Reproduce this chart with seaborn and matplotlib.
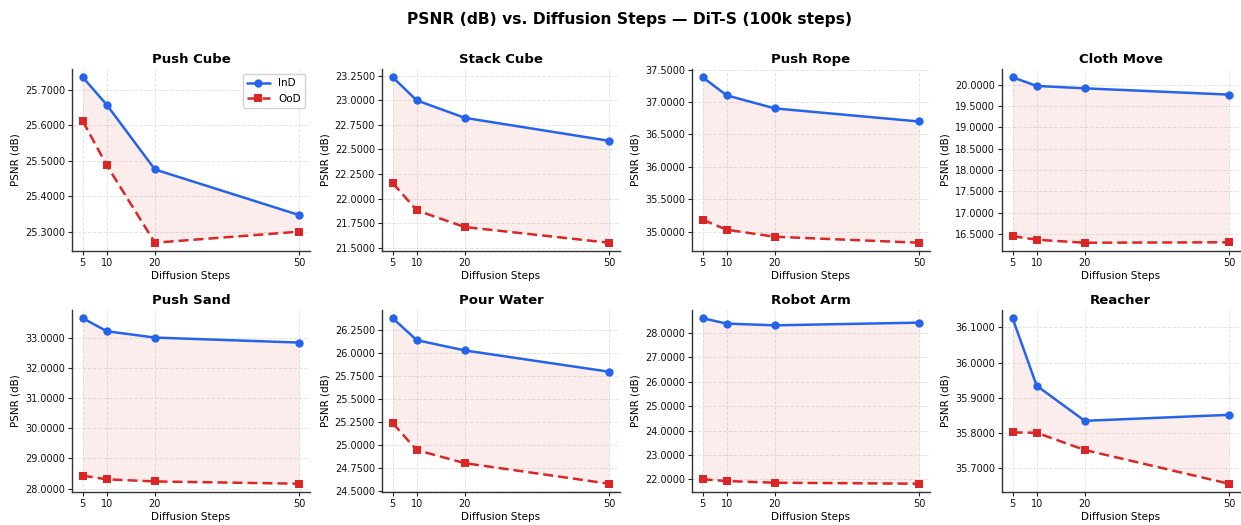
import numpy as np
import pandas as pd
import matplotlib
matplotlib.use("Agg")
import matplotlib.pyplot as plt
import seaborn as sns
from matplotlib.ticker import FormatStrFormatter

steps = [5, 10, 20, 50]
tasks = ["Push Cube", "Stack Cube", "Push Rope", "Cloth Move",
         "Push Sand", "Pour Water", "Robot Arm", "Reacher"]

ind_push_cube = [25.7346, 25.657, 25.4757, 25.3477]
ood_push_cube = [25.611, 25.487, 25.270, 25.301]
ind_stack_cube = [23.233, 22.998, 22.821, 22.588]
ood_stack_cube = [22.159, 21.882, 21.713, 21.554]
ind_push_rope = [37.382, 37.103, 36.902, 36.700]
ood_push_rope = [35.185, 35.031, 34.923, 34.831]
ind_cloth_move = [20.18, 19.976, 19.92, 19.772]
ood_cloth_move = [16.445, 16.36, 16.29, 16.30]
ind_push_sand = [33.64, 33.21, 33.0, 32.835]
ood_push_sand = [28.43, 28.31, 28.24, 28.165]
ind_pour_water = [26.38, 26.141, 26.029, 25.797]
ood_pour_water = [25.235, 24.942, 24.80, 24.576]
ind_robot_arm = [28.60, 28.38, 28.31, 28.42]
ood_robot_arm = [22.0, 21.93, 21.86, 21.82]
ind_reacher = [36.126, 35.934, 35.834, 35.851]
ood_reacher = [35.801, 35.80, 35.751, 35.655]

ind_vals = [ind_push_cube, ind_stack_cube, ind_push_rope, ind_cloth_move,
            ind_push_sand, ind_pour_water, ind_robot_arm, ind_reacher]
ood_vals = [ood_push_cube, ood_stack_cube, ood_push_rope, ood_cloth_move,
            ood_push_sand, ood_pour_water, ood_robot_arm, ood_reacher]

sns.set_theme(style="ticks")
plt.rcParams['font.family'] = ['DejaVu Sans']
plt.rcParams['text.color'] = 'black'
plt.rcParams['axes.labelcolor'] = 'black'

BLUE = "#2563eb"
RED = "#dc2626"

fig, axes = plt.subplots(2, 4, figsize=(12.41, 5.25), dpi=100)
fig.subplots_adjust(left=0.058, right=0.999, top=0.8686, bottom=0.0629,
                    wspace=0.3025, hspace=0.324)

for i, (ax, task) in enumerate(zip(axes.flat, tasks)):
    df = pd.DataFrame({
        "steps": steps * 2,
        "psnr": ind_vals[i] + ood_vals[i],
        "split": ["InD"] * 4 + ["OoD"] * 4,
    })
    ax.fill_between(steps, ind_vals[i], ood_vals[i], color=RED, alpha=0.08,
                    linewidth=0, zorder=1)
    sns.lineplot(data=df, x="steps", y="psnr", hue="split", style="split",
                 palette={"InD": BLUE, "OoD": RED},
                 markers={"InD": "o", "OoD": "s"},
                 dashes={"InD": "", "OoD": (4, 2)},
                 markersize=6, linewidth=1.8, markeredgewidth=0,
                 ax=ax, legend=(i == 0), zorder=3)
    ax.set_title(task, fontsize=9.5, fontweight="bold", pad=4, color="black")
    ax.set_xlabel("Diffusion Steps", fontsize=7.5, labelpad=2)
    ax.set_ylabel("PSNR (dB)", fontsize=7.5, labelpad=3)
    ax.set_xticks(steps)
    ax.yaxis.set_major_formatter(FormatStrFormatter("%.4f"))
    ax.tick_params(axis="both", labelsize=7, length=3, width=0.8, pad=2,
                   colors="#222222", labelcolor="#111111")
    ax.grid(True, linestyle="--", linewidth=0.7, color="#dddddd", alpha=0.8)
    ax.set_axisbelow(True)
    for s in ["top", "right"]:
        ax.spines[s].set_visible(False)
    for s in ["left", "bottom"]:
        ax.spines[s].set_color("#333333")
        ax.spines[s].set_linewidth(1.0)
    if i == 0:
        leg = ax.legend(loc="upper right", fontsize=7.5, frameon=True,
                        framealpha=0.9, edgecolor="#cccccc", handlelength=2.2,
                        borderpad=0.4, labelspacing=0.5)
        leg.set_title(None)

fig.suptitle("PSNR (dB) vs. Diffusion Steps \u2014 DiT-S (100k steps)",
             fontsize=11.2, fontweight="bold", x=0.507, y=0.978, color="black")

fig.savefig("out.png", dpi=100)
